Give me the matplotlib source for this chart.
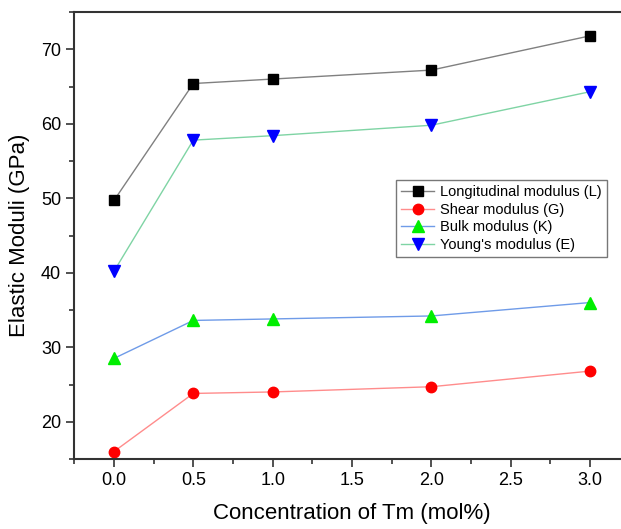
import matplotlib
matplotlib.use("Agg")
from matplotlib import pyplot as plt
from matplotlib.ticker import MultipleLocator

plt.rcParams['font.family'] = ['Liberation Sans', 'DejaVu Sans']

# Tm concentration (mol%) and elastic moduli (GPa)
conc = [0.0, 0.5, 1.0, 2.0, 3.0]
long_mod = [49.7, 65.4, 66.0, 67.2, 71.8]
shear_mod = [16.0, 23.8, 24.0, 24.7, 26.8]
bulk_mod = [28.5, 33.6, 33.8, 34.2, 36.0]
young_mod = [40.2, 57.8, 58.4, 59.8, 64.3]

fig = plt.figure(figsize=(6.21, 5.29), dpi=100)
ax = fig.add_axes([74.3 / 621, 1 - 459 / 529, 555.4 / 621, 447 / 529])

ax.plot(conc, long_mod, color='#808080', lw=1.0, marker='s', ms=6.5,
        mfc='black', mec='black', label='Longitudinal modulus (L)')
ax.plot(conc, shear_mod, color='#ff8c8c', lw=1.0, marker='o', ms=7.5,
        mfc='red', mec='red', label='Shear modulus (G)')
ax.plot(conc, bulk_mod, color='#6f9be8', lw=1.0, marker='^', ms=8.5,
        mfc='#00ee00', mec='#00ee00', label='Bulk modulus (K)')
ax.plot(conc, young_mod, color='#7fd4a4', lw=1.0, marker='v', ms=8.5,
        mfc='blue', mec='blue', label="Young's modulus (E)")

ax.set_xlim(-0.25, 3.25)
ax.set_ylim(15, 75)
ax.xaxis.set_major_locator(MultipleLocator(0.5))
ax.xaxis.set_minor_locator(MultipleLocator(0.25))
ax.yaxis.set_major_locator(MultipleLocator(10))
ax.yaxis.set_minor_locator(MultipleLocator(5))

for s in ['left', 'bottom', 'top']:
    ax.spines[s].set_linewidth(1.5)
    ax.spines[s].set_color('#333333')
ax.spines['right'].set_visible(False)

ax.tick_params(axis='both', which='major', direction='out', length=6,
               width=1.2, labelsize=13, color='#333333')
ax.tick_params(axis='both', which='minor', direction='out', length=3.5,
               width=1.2, color='#333333')
ax.tick_params(top=False, right=False, which='both')

ax.set_xlabel('Concentration of Tm (mol%)', fontsize=16, labelpad=10)
ax.set_ylabel('Elastic Moduli (GPa)', fontsize=16, labelpad=8)

leg = ax.legend(loc='upper right', bbox_to_anchor=(607 / 621, 1 - 180 / 529),
                bbox_transform=fig.transFigure, fontsize=10.5, frameon=True,
                fancybox=False, edgecolor='#555555', borderaxespad=0,
                handlelength=2.3, handletextpad=0.4, labelspacing=0.25,
                borderpad=0.35)
leg.get_frame().set_linewidth(1.0)

plt.savefig('out.png', dpi=100)
